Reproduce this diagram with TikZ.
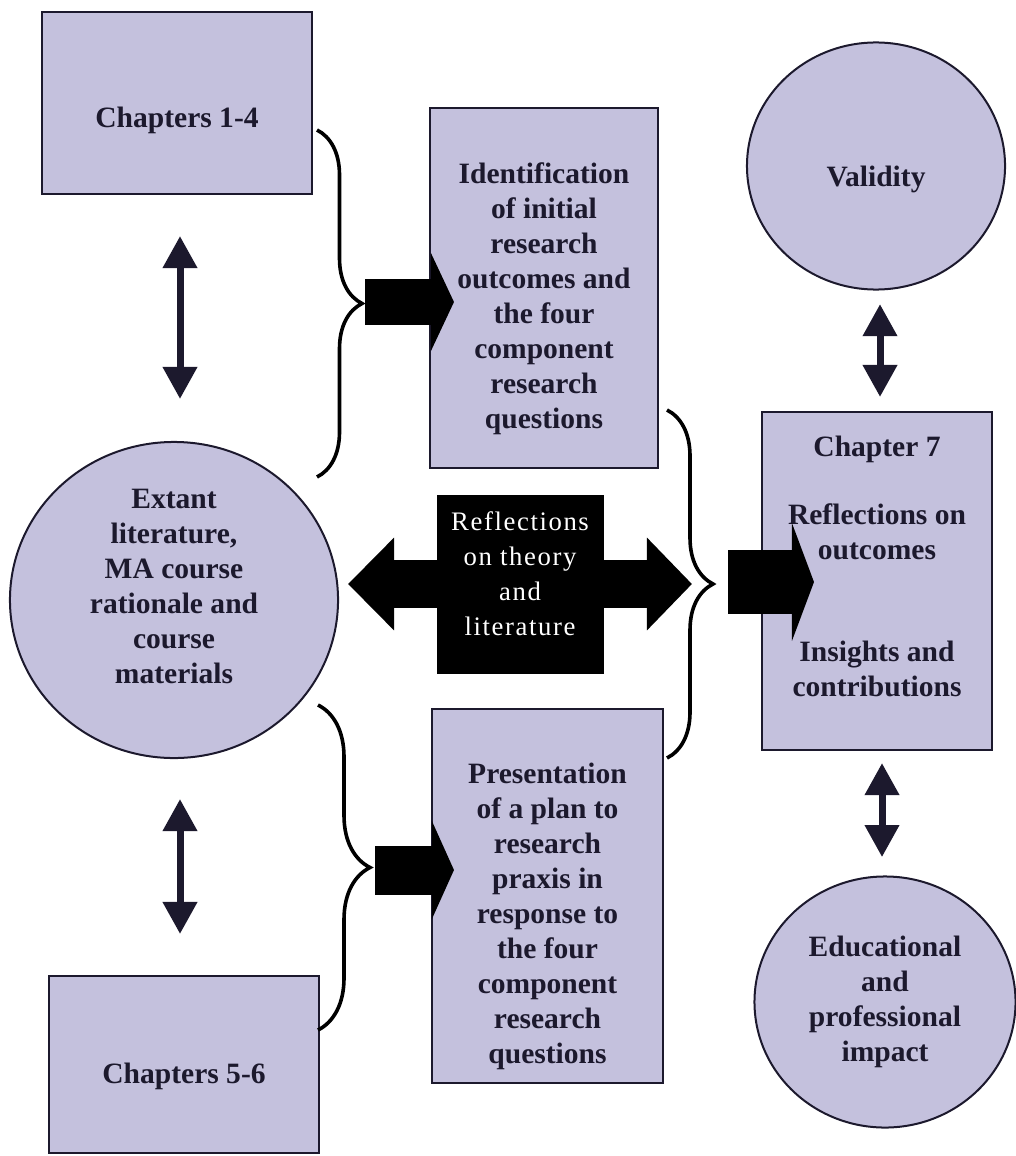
\documentclass[tikz,border=0pt]{standalone}
\usepackage{fontspec}
\setmainfont{Liberation Serif}
\usetikzlibrary{shapes.geometric,arrows.meta,decorations.pathreplacing,backgrounds}

\definecolor{lav}{RGB}{196,193,221}
\definecolor{ink}{RGB}{28,25,45}

% struts that move a node's text up or down
\newcommand{\padbelow}[1]{\rule[-#1]{0pt}{#1}}
\newcommand{\padabove}[1]{\rule{0pt}{#1}}

\tikzset{
  chbox/.style={draw=ink, line width=0.05cm, fill=lav, text=ink, align=center, inner sep=0pt,
    font={\bfseries\fontsize{21}{24.9}\selectfont}},
  bubble/.style={chbox, ellipse},
  updown/.style={draw=ink, line width=0.175cm,
    {Triangle[width=0.825cm,length=0.8cm]}-{Triangle[width=0.825cm,length=0.8cm]}},
  fatarrow/.style={draw=black, line width=#1},
  bracket/.style={draw=black, line width=0.09cm, decorate, decoration={brace, amplitude=#1}}
}

\begin{document}
\begin{tikzpicture}[x=0.025cm, y=-0.025cm]
  \useasboundingbox (0,0) rectangle (1016,1156);

  % left column
  \node[chbox, minimum width=6.75cm, minimum height=4.55cm, text height=1.4cm] (ch14) at (177,103) {Chapters 1-4};
  \node[bubble, minimum width=8.2cm, minimum height=7.9cm] (extant) at (174,600)
    {Extant\\literature,\\MA course\\rationale and\\course\\materials\padbelow{0.7cm}};
  \node[chbox, minimum width=6.75cm, minimum height=4.425cm, text height=1.1cm] (ch56) at (184,1064.5) {Chapters 5-6};

  % middle column
  \node[chbox, minimum width=5.7cm, minimum height=8.975cm] (ident) at (544,288)
    {\padabove{1.05cm}Identification\\of initial\\research\\outcomes and\\the four\\component\\research\\questions};
  \node[draw=black, fill=black, text=white, align=center, inner sep=0pt, minimum width=4.15cm, minimum height=4.45cm,
    font={\fontsize{19}{24.9}\selectfont\addfontfeature{LetterSpace=6}}] (refl) at (520,584)
    {Reflections\\on theory\\and\\literature\padbelow{0.5cm}};
  \node[chbox, minimum width=5.775cm, minimum height=9.35cm] (pres) at (547.5,896)
    {\padabove{1.55cm}Presentation\\of a plan to\\research\\praxis in\\response to\\the four\\component\\research\\questions};

  % right column
  \node[bubble, minimum width=6.45cm, minimum height=6.175cm] (valid) at (876,166) {\padabove{1.2cm}Validity};
  \node[chbox, minimum width=5.75cm, minimum height=8.45cm] (ch7) at (877,581)
    {Chapter 7\\[0.825cm]Reflections on\\outcomes\\[1.675cm]Insights and\\contributions\padbelow{0.75cm}};
  \node[bubble, minimum width=6.525cm, minimum height=6.275cm] (edu) at (885,1002)
    {Educational\\and\\professional\\impact};

  % braces
  \coordinate (b1a) at (317,130); \coordinate (b1b) at (317,477); \coordinate (t1) at (362,302);
  \coordinate (b2a) at (667,410); \coordinate (b2b) at (667,758); \coordinate (t2) at (713,582);
  \coordinate (b3a) at (318,705); \coordinate (b3b) at (318,1030); \coordinate (t3) at (370,870);
  \draw[bracket=1.125cm] (b1a) -- (b1b);
  \draw[bracket=1.15cm] (b2a) -- (b2b);
  \draw[bracket=1.3cm] (b3a) -- (b3b);

  % block arrows
  \draw[fatarrow=1.15cm, -{Triangle[width=2.425cm,length=0.575cm]}]
    ([xshift=0.075cm]t1) -- ([xshift=0.625cm]t1 -| ident.west);
  \draw[fatarrow=1.575cm, -{Triangle[width=2.925cm,length=0.55cm]}]
    ([xshift=0.375cm]t2) -- ([xshift=1.325cm]t2 -| ch7.west);
  \draw[fatarrow=1.225cm, -{Triangle[width=2.425cm,length=0.55cm]}]
    ([xshift=0.125cm]t3) -- ([xshift=0.575cm]t3 -| pres.west);
  \begin{scope}[on background layer]
    \draw[fatarrow=1.175cm, {Triangle[width=2.25cm,length=1.15cm]}-{Triangle[width=2.25cm,length=1.125cm]}]
      ([xshift=0.225cm]extant.east |- refl) -- ([xshift=-0.525cm]t2 |- refl);
  \end{scope}

  % two-way arrows
  \draw[updown, shorten <=1.025cm, shorten >=1.05cm]
    ([xshift=0.075cm]ch14.south) -- ([xshift=0.075cm]ch14.south |- extant.north);
  \draw[updown, shorten <=1cm, shorten >=1.025cm]
    ([xshift=-0.1cm]ch56.north |- extant.south) -- ([xshift=-0.1cm]ch56.north);
  \draw[updown, shorten <=0.34cm, shorten >=0.35cm]
    ([xshift=0.1cm]valid.south) -- ([xshift=0.1cm]valid.south |- ch7.north);
  \draw[updown, shorten <=0.3cm, shorten >=0.46cm]
    ([xshift=0.125cm]ch7.south) -- ([xshift=0.125cm]ch7.south |- edu.north);
\end{tikzpicture}
\end{document}
